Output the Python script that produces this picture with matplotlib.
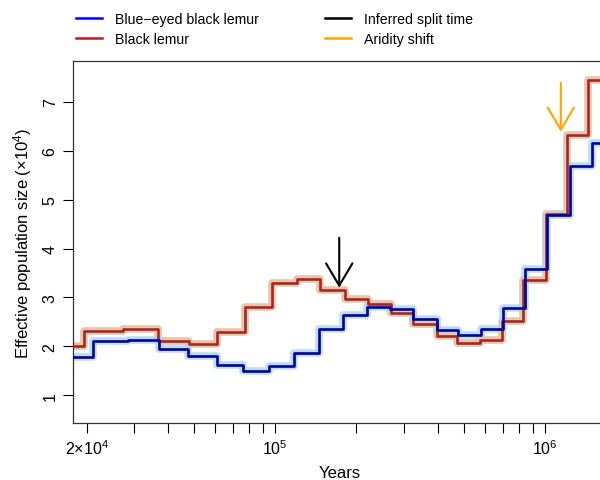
import numpy as np
import matplotlib
matplotlib.use("Agg")
import matplotlib.pyplot as plt
from matplotlib.lines import Line2D
from matplotlib.ticker import FixedLocator, NullFormatter

plt.rcParams["font.family"] = ["Liberation Sans", "DejaVu Sans"]
plt.rcParams["mathtext.fontset"] = "custom"
plt.rcParams["mathtext.rm"] = "Liberation Sans"
plt.rcParams["mathtext.default"] = "regular"

# step edges (years) and effective population size (x10^4)
blue_edges = [17780, 21140, 28500, 37050, 47580, 60630, 76100, 95010, 117600,
              145600, 177800, 218300, 266300, 323100, 397800, 477000, 577500,
              700400, 845300, 1019800, 1237900, 1490000, 2500000]
blue_ne = [1.77, 2.10, 2.13, 1.94, 1.80, 1.61, 1.49, 1.60, 1.87, 2.35, 2.63,
           2.81, 2.76, 2.55, 2.33, 2.22, 2.35, 2.78, 3.59, 4.68, 5.69, 6.16]

red_edges = [17780, 19530, 27320, 36830, 47860, 60940, 77210, 96980, 120100,
             146500, 181300, 221200, 267900, 324000, 397800, 472900, 574100,
             690900, 830900, 1008600, 1203600, 1447500, 2500000]
red_ne = [2.01, 2.31, 2.36, 2.11, 2.05, 2.30, 2.80, 3.30, 3.38, 3.16, 2.96,
          2.87, 2.69, 2.45, 2.21, 2.06, 2.13, 2.52, 3.35, 4.71, 6.33, 7.45]

# arrows: (year, tip, tail)
split_arrow = (172700, 3.20, 4.22)
aridity_arrow = (1146000, 6.39, 7.39)

fig = plt.figure(figsize=(6, 4.81), dpi=100)
ax = fig.add_axes([0.1217, 0.1185, 0.888, 0.7525])

ax.set_xscale("log")
ax.set_xlim(17780, 1683000)
ax.set_ylim(0.429, 7.837)


def stairs(edges, vals):
    return edges, list(vals) + [vals[-1]]


bx, by = stairs(blue_edges, blue_ne)
rx, ry = stairs(red_edges, red_ne)

# bootstrap spread shown as wide faint underlay
ax.step(rx, ry, where="post", color="tan", lw=5.5, alpha=0.7, zorder=1)
ax.step(bx, by, where="post", color="lightblue", lw=5.5, alpha=0.8, zorder=1)

ax.step(rx, ry, where="post", color="firebrick", lw=1.9, zorder=3)
ax.step(bx, by, where="post", color="#0000a0", lw=1.9, zorder=3)

for (t, tip, tail), c in [(split_arrow, "black"), (aridity_arrow, "orange")]:
    ax.annotate("", xy=(t, tip), xytext=(t, tail),
                arrowprops=dict(arrowstyle="->,head_length=1.6,head_width=0.95",
                                color=c, lw=1.5, shrinkA=0, shrinkB=0),
                zorder=5)

ax.xaxis.set_major_locator(FixedLocator([2e4, 1e5, 1e6]))
ax.set_xticklabels([r"2×10$^4$", r"10$^5$", r"10$^6$"])
minors = [3e4, 4e4, 5e4, 6e4, 7e4, 8e4, 9e4,
          2e5, 3e5, 4e5, 5e5, 6e5, 7e5, 8e5, 9e5]
ax.xaxis.set_minor_locator(FixedLocator(minors))
ax.xaxis.set_minor_formatter(NullFormatter())
ax.set_yticks([1, 2, 3, 4, 5, 6, 7])
ax.set_yticklabels(["1", "2", "3", "4", "5", "6", "7"], rotation=90,
                   va="center")

ax.tick_params(axis="both", which="both", length=7, width=0.8,
               labelsize=11.5, direction="out")
ax.tick_params(axis="x", pad=4)
ax.tick_params(axis="y", pad=4)
for s in ax.spines.values():
    s.set_linewidth(0.9)
    s.set_color("#333333")

ax.set_xlabel("Years", fontsize=12, labelpad=6)
ax.set_ylabel(r"Effective population size (×10$^4$)", fontsize=12, labelpad=6)

handles = [
    Line2D([], [], color="blue", lw=1.8, label="Blue\u2212eyed black lemur"),
    Line2D([], [], color="firebrick", lw=1.8, label="Black lemur"),
    Line2D([], [], color="black", lw=1.8, label="Inferred split time"),
    Line2D([], [], color="orange", lw=1.8, label="Aridity shift"),
]
fig.legend(handles=handles, ncol=2, loc="upper left",
           bbox_to_anchor=(0.105, 1.0), frameon=False, fontsize=10.2,
           handlelength=1.85, handletextpad=0.9, columnspacing=4.7,
           labelspacing=0.45)

fig.savefig("out.png", dpi=100)
